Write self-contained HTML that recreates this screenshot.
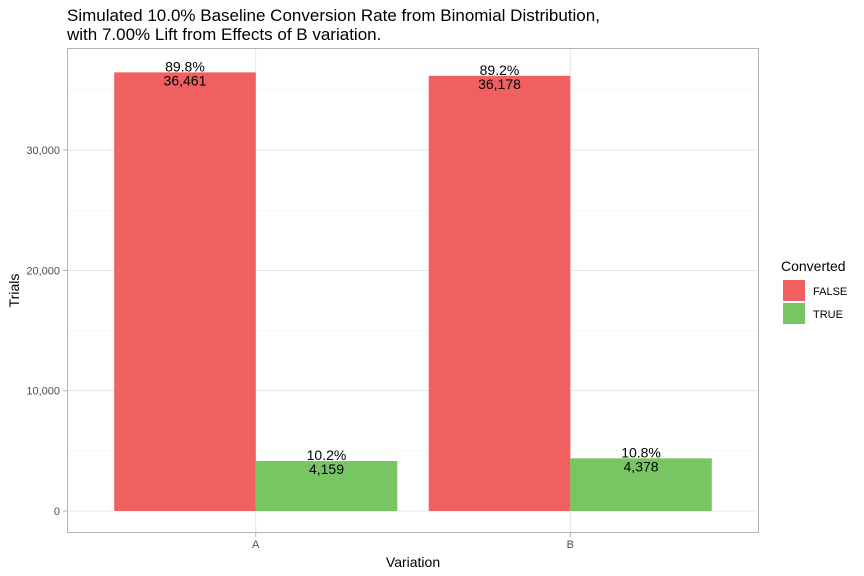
<!DOCTYPE html>
<html><head><meta charset="utf-8">
<style>
html,body{margin:0;padding:0;background:#fff;}
svg{display:block;font-family:"Liberation Sans",Arial,sans-serif;}
</style></head>
<body>
<svg id="chart" width="864" height="576" viewBox="0 0 864 576"></svg>
<script>
const categories = ["A","B"];
const groups = ["FALSE","TRUE"];
const falseValues = [36461, 36178];
const trueValues = [4159, 4378];
const falsePct = ["89.8%","89.2%"];
const truePct = ["10.2%","10.8%"];
const countLabels = [["36,461","4,159"],["36,178","4,378"]];
const yTicks = [0,10000,20000,30000];
const yTickLabels = ["0","10,000","20,000","30,000"];
const yMinor = [5000,15000,25000,35000];

const NS="http://www.w3.org/2000/svg";
const svg=document.getElementById('chart');
const P={l:67,r:759,t:48,b:533};
const y0=511, pxPer=120.3/10000;
function yScale(v){return y0 - v*pxPer;}
const unit=(P.r-P.l)/2.2;
function xScale(i){return P.l + (i+1-0.4)*unit;}
function mk(tag,attrs,name,text){
  const e=document.createElementNS(NS,tag);
  for(const k in attrs) e.setAttribute(k,attrs[k]);
  
  
  if(text!==undefined) e.textContent=text;
  svg.appendChild(e); return e;
}
// panel background
mk('rect',{x:P.l,y:P.t,width:P.r-P.l,height:P.b-P.t,fill:'#fff'},'plot-panel');
yMinor.forEach(v=>mk('line',{x1:P.l,x2:P.r,y1:yScale(v),y2:yScale(v),stroke:'#f2f2f2','stroke-width':0.6},'minor-gridline'));
yTicks.forEach(v=>mk('line',{x1:P.l,x2:P.r,y1:yScale(v),y2:yScale(v),stroke:'#e0e0e0','stroke-width':0.8},'major-gridline'));
categories.forEach((c,i)=>mk('line',{x1:xScale(i),x2:xScale(i),y1:P.t,y2:P.b,stroke:'#e0e0e0','stroke-width':0.8},'x-gridline'));
const bw=0.45*unit;
const colors=['#f06060','#78c663'];
categories.forEach((c,i)=>{
  const vals=[falseValues[i],trueValues[i]];
  const pcts=[falsePct[i],truePct[i]];
  vals.forEach((v,g)=>{
    const x=xScale(i)-0.45*unit+g*bw;
    const top=yScale(v);
    mk('rect',{x:x,y:top,width:bw,height:y0-top,fill:colors[g]},'bar-'+c.toLowerCase()+'-'+groups[g].toLowerCase());
    const cx=x+bw/2;
    mk('text',{x:cx,y:top-1,'text-anchor':'middle','font-size':14,fill:'#000'},'percent-label',pcts[g]);
    mk('text',{x:cx,y:top+13,'text-anchor':'middle','font-size':14,fill:'#000'},'count-label',countLabels[i][g]);
  });
});
mk('rect',{x:P.l+0.5,y:P.t+0.5,width:P.r-P.l-1,height:P.b-P.t-1,fill:'none',stroke:'#b3b3b3','stroke-width':1},'panel-border');
yTicks.forEach((v,k)=>{
  mk('line',{x1:P.l-4,x2:P.l,y1:yScale(v),y2:yScale(v),stroke:'#b3b3b3'},'y-tick');
  mk('text',{x:P.l-7,y:yScale(v)+4,'text-anchor':'end','font-size':11,fill:'#4d4d4d'},'y-tick-label',yTickLabels[k]);
});
categories.forEach((c,i)=>{
  mk('line',{x1:xScale(i),x2:xScale(i),y1:P.b,y2:P.b+4,stroke:'#b3b3b3'},'x-tick');
  mk('text',{x:xScale(i),y:P.b+15,'text-anchor':'middle','font-size':11,fill:'#4d4d4d'},'x-tick-label',c);
});
mk('text',{x:(P.l+P.r)/2,y:567,'text-anchor':'middle','font-size':14,fill:'#000'},'x-axis-title','Variation');
mk('text',{x:19,y:(P.t+P.b)/2,'text-anchor':'middle','font-size':14,fill:'#000',transform:'rotate(-90 19 '+((P.t+P.b)/2)+')'},'y-axis-title','Trials');
mk('text',{x:67,y:21,'font-size':17,fill:'#000'},'chart-title-line1','Simulated 10.0% Baseline Conversion Rate from Binomial Distribution,');
mk('text',{x:67,y:40,'font-size':17,fill:'#000'},'chart-title-line2','with 7.00% Lift from Effects of B variation.');
mk('text',{x:781,y:271,'font-size':14,fill:'#000'},'legend-title','Converted');
groups.forEach((g,k)=>{
  mk('rect',{x:783,y:280+k*23,width:22,height:21,fill:colors[k]},'legend-key-'+g.toLowerCase());
  mk('text',{x:813,y:295+k*23,'font-size':11,fill:'#000'},'legend-label-'+g.toLowerCase(),g);
});
</script>
</body></html>
